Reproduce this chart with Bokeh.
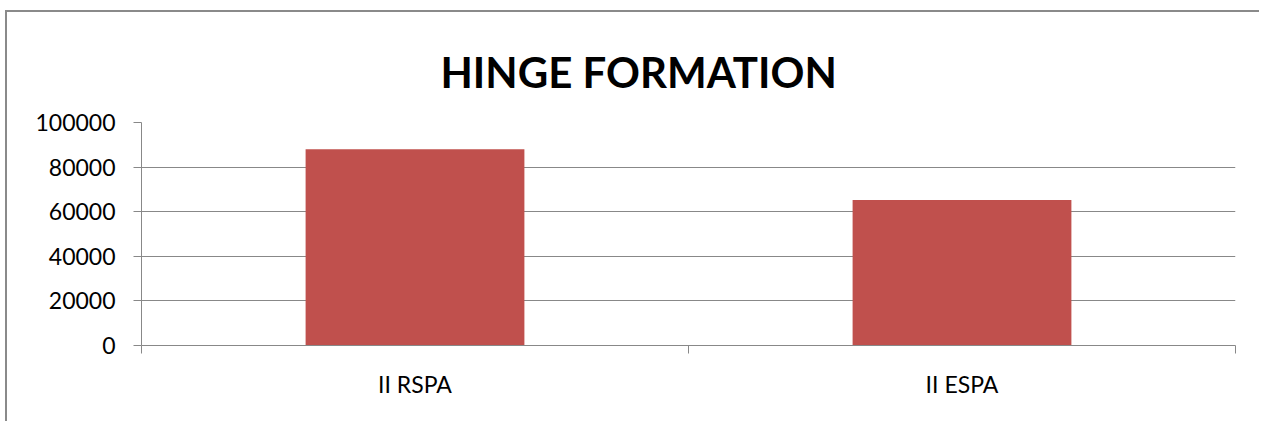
from bokeh.plotting import figure
from bokeh.models import FixedTicker, Range1d, NumeralTickFormatter
from bokeh.embed import file_html
from bokeh.resources import INLINE

categories = ["II RSPA", "II ESPA"]
values = [88000, 65300]
y_ticks = [0, 20000, 40000, 60000, 80000, 100000]
title_text = "HINGE FORMATION"

GRAY = "#888888"
BAR = "#C0504D"

x_pos = [i + 0.5 for i in range(len(categories))]
bounds = [i for i in range(len(categories) + 1)]

p = figure(width=1254, height=411, output_backend="svg", toolbar_location=None,
           x_range=Range1d(0, len(categories)), y_range=Range1d(0, y_ticks[-1]),
           min_border_left=134, min_border_right=26, min_border_top=110,
           min_border_bottom=78)
p.margin = (10, 0, 0, 5)
p.styles = {"border-left": "2px solid #8a8a8a", "border-top": "2px solid #8a8a8a"}
p.outline_line_color = None
p.background_fill_color = "white"
p.border_fill_color = "white"

p.vbar(x=x_pos, top=values, width=0.4, fill_color=BAR, line_color=None)

p.title.text = title_text
p.title.text_font = "Lato"
p.title.text_font_style = "bold"
p.title.text_font_size = "42px"
p.title.text_line_height = 1.0
p.title.align = "left"
p.title.text_color = "black"
p.title.standoff = 52
p.title.offset = 299

# x axis
p.xaxis.ticker = FixedTicker(ticks=x_pos, minor_ticks=bounds)
p.xaxis.major_label_overrides = {x_pos[i]: categories[i] for i in range(len(categories))}
p.xaxis.major_tick_line_color = None
p.xaxis.major_tick_in = 0
p.xaxis.major_tick_out = 0
p.xaxis.minor_tick_in = 0
p.xaxis.minor_tick_out = 8
p.xaxis.minor_tick_line_color = GRAY
p.xaxis.axis_line_color = GRAY
p.xaxis.major_label_standoff = 16
p.xaxis.major_label_text_font = "Lato"
p.xaxis.major_label_text_font_size = "23px"
p.xaxis.major_label_text_color = "black"
p.xgrid.visible = False

# y axis
p.yaxis.ticker = FixedTicker(ticks=y_ticks)
p.yaxis.formatter = NumeralTickFormatter(format="0")
p.yaxis.major_tick_in = 0
p.yaxis.major_tick_out = 8
p.yaxis.major_tick_line_color = GRAY
p.yaxis.minor_tick_line_color = None
p.yaxis.axis_line_color = GRAY
p.yaxis.major_label_standoff = 18
p.yaxis.major_label_text_font = "Lato"
p.yaxis.major_label_text_font_size = "23px"
p.yaxis.major_label_text_color = "black"
p.ygrid.ticker = FixedTicker(ticks=y_ticks)
p.ygrid.grid_line_color = GRAY

open("out.html", "w").write(file_html(p, INLINE))
